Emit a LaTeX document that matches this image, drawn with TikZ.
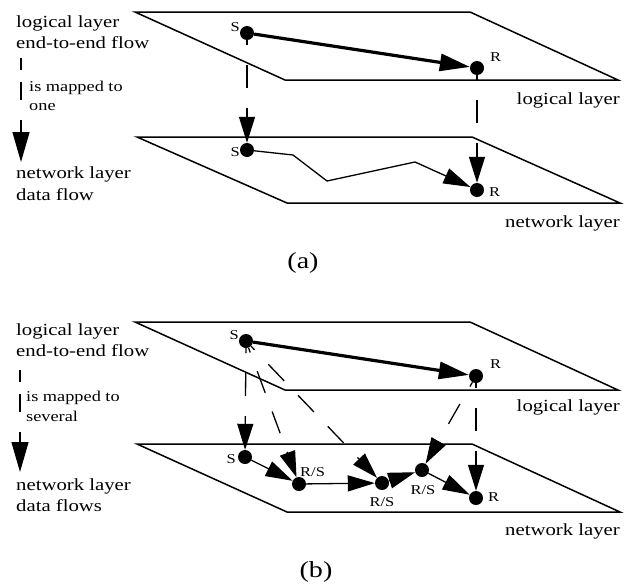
\documentclass[tikz,border=0pt]{standalone}
\usepackage{fontspec}
\setmainfont{Liberation Serif}[FakeStretch=1.22]
\usetikzlibrary{arrows.meta,backgrounds}
\begin{document}
\begin{tikzpicture}[x=1pt,y=-1pt,
  plane/.style={line width=1.5pt, line join=miter},
  dot/.style={circle, fill=black, inner sep=0pt, minimum size=14pt},
  flow/.style={line width=1.3pt, -{Triangle[length=27pt,width=16pt]}},
  thickflow/.style={line width=3.2pt, -{Triangle[length=30pt,width=17pt]}},
  mapflow/.style={line width=1.3pt, dash pattern=on 23pt off 20pt, dash phase=18pt, -{Triangle[length=26pt,width=16pt]}},
  legarrow/.style={line width=1.3pt, dash pattern=on 12pt off 12pt on 18pt off 20pt, -{Triangle[length=30pt,width=17pt]}},
  lbl/.style={font=\fontsize{17}{20}\selectfont, inner sep=0pt},
  smalllbl/.style={font=\fontsize{15}{18}\selectfont, inner sep=0pt},
  tinylbl/.style={font=\fontsize{13.5}{16}\selectfont, inner sep=0pt},
  captlbl/.style={font=\fontsize{23}{26}\selectfont, inner sep=0pt}]
\useasboundingbox (0,0) rectangle (629,584);

% ---------- planes ----------
\begin{scope}[on background layer]
\draw[plane] (135,12) -- (470,12) -- (618,80) -- (285,80) -- cycle;
\draw[plane] (137,137) -- (472,137) -- (620,203) -- (287,203) -- cycle;
\draw[plane] (135,322) -- (470,322) -- (618,390) -- (285,390) -- cycle;
\draw[plane] (137,444) -- (472,444) -- (620,512) -- (287,512) -- cycle;
\end{scope}

% ---------- dots (a) ----------
\node[dot] (sa1) at (247,33) {};
\node[dot] (ra1) at (477,68) {};
\node[dot] (sa2) at (247,150) {};
\node[dot] (ra2) at (477,190) {};
% ---------- dots (b) ----------
\node[dot] (sb1) at (246,341) {};
\node[dot] (rb1) at (476,376) {};
\node[dot] (sb2) at (245,457) {};
\node[dot] (rs1) at (299,484) {};
\node[dot] (rs2) at (382,483) {};
\node[dot] (rs3) at (422,470) {};
\node[dot] (rb2) at (476,498) {};

% ---------- legend arrow endpoints ----------
\coordinate (la1) at (21,58);
\coordinate (la2) at (21,162);
\coordinate (lb1) at (20,370);
\coordinate (lb2) at (20,472);

% ---------- connectors ----------
\begin{scope}[on background layer]
% (a)
\draw[thickflow] (sa1) -- (ra1);
\draw[mapflow] (sa1) -- (sa2);
\draw[mapflow] (ra1) -- (ra2);
\draw[flow] (sa2) -- (293,155) -- (327,181) -- (415,162) -- (ra2);
\draw[legarrow] (la1) -- (la2);
% (b)
\draw[thickflow] (sb1) -- (rb1);
\draw[mapflow] (sb1) -- (sb2);
\draw[mapflow] (sb1) -- (rs1);
\draw[mapflow] (sb1) -- (rs2);
\draw[mapflow] (rb1) -- (rs3);
\draw[mapflow] (rb1) -- (rb2);
\draw[flow] (sb2) -- (rs1);
\draw[flow] (rs1) -- (rs2);
\draw[flow] (rs2) -- (rs3);
\draw[flow] (rs3) -- (rb2);
\draw[legarrow] (lb1) -- (lb2);
\end{scope}

% ---------- dot labels (a) ----------
\node[tinylbl, anchor=base east] (tsa1) at (240,31.7) {S};
\node[tinylbl, anchor=base west] (tra1) at (490,61.7) {R};
\node[tinylbl, anchor=base east] (tsa2) at (240,156.7) {S};
\node[tinylbl, anchor=base west] (tra2) at (489,196.7) {R};
% ---------- dot labels (b) ----------
\node[tinylbl, anchor=base east] (tsb1) at (239,339.3) {S};
\node[tinylbl, anchor=base west] (trb1) at (490,368) {R};
\node[tinylbl, anchor=base east] (tsb2) at (236,463) {S};
\node[tinylbl, anchor=base west] (trs1) at (300,476.7) {R/S};
\node[tinylbl, anchor=base] (trs2) at (382,506.7) {R/S};
\node[tinylbl, anchor=base] (trs3) at (423,494) {R/S};
\node[tinylbl, anchor=base west] (trb2) at (488,501.7) {R};

% ---------- layer names ----------
\node[lbl, anchor=base east] (lla) at (620,104) {logical layer};
\node[lbl, anchor=base east] (nla) at (620,227) {network layer};
\node[lbl, anchor=base east] (llb) at (620,411.7) {logical layer};
\node[lbl, anchor=base east] (nlb) at (620,535) {network layer};

% ---------- legend texts (a) ----------
\node[lbl, anchor=base west] (a1) at (16,27) {logical layer};
\node[lbl, anchor=base west] (a2) at (16,48.5) {end-to-end flow};
\node[smalllbl, anchor=base west] (a3) at (29,91.7) {is mapped to};
\node[smalllbl, anchor=base west] (a4) at (29,110) {one};
\node[lbl, anchor=base west] (a5) at (16,178) {network layer};
\node[lbl, anchor=base west] (a6) at (16,200) {data flow};
% ---------- legend texts (b) ----------
\node[lbl, anchor=base west] (b1) at (16,335) {logical layer};
\node[lbl, anchor=base west] (b2) at (16,356.7) {end-to-end flow};
\node[smalllbl, anchor=base west] (b3) at (26,401.7) {is mapped to};
\node[smalllbl, anchor=base west] (b4) at (26,421.7) {several};
\node[lbl, anchor=base west] (b5) at (16,490) {network layer};
\node[lbl, anchor=base west] (b6) at (16,511.7) {data flows};

% ---------- captions ----------
\node[captlbl, anchor=base] (capa) at (303,268) {(a)};
\node[captlbl, anchor=base] (capb) at (316,577) {(b)};
\end{tikzpicture}
\end{document}
